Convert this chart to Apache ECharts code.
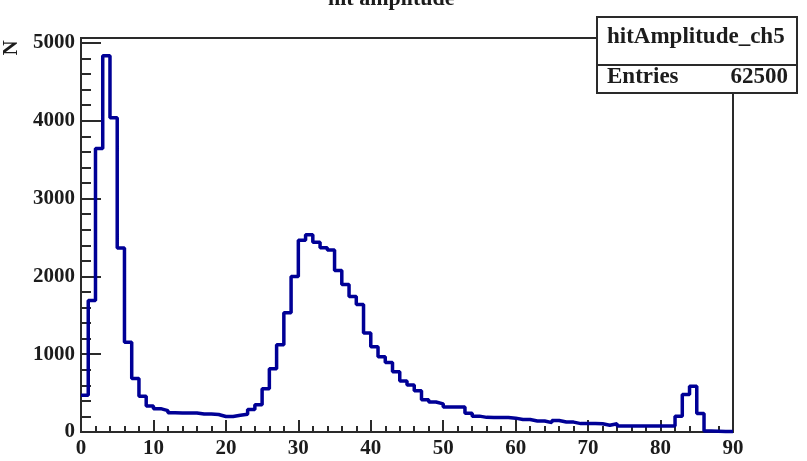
<!DOCTYPE html>
<html>
<head>
<meta charset="utf-8">
<title>hit amplitude</title>
<script src="https://cdn.jsdelivr.net/npm/echarts@6/dist/echarts.min.js"></script>
<style>
  html, body { margin: 0; padding: 0; background: #fff; }
  #chart { width: 807px; height: 461px; }
</style>
</head>
<body>
<div id="chart"></div>
<script>
// Histogram of hit amplitudes, channel 5: 90 bins of width 1 from 0 to 90
const histName = 'hitAmplitude_ch5';
const histTitle = 'hit amplitude';
const entries = '62500';
const binLow = 0;
const binWidth = 1;
const xRange = [0, 90];
const yRange = [0, 5000];
const counts = [
  473, 1690, 3645, 4835, 4040, 2365, 1155, 688, 460, 335,
  300, 275, 248, 245, 245, 245, 232, 230, 225, 200,
  200, 215, 228, 290, 350, 555, 812, 1122, 1532, 2000,
  2465, 2536, 2440, 2368, 2338, 2075, 1895, 1741, 1640, 1272,
  1095, 967, 894, 775, 657, 604, 530, 415, 385, 362,
  322, 322, 322, 240, 204, 188, 186, 186, 186, 178,
  160, 160, 142, 142, 121, 148, 129, 127, 108, 108,
  108, 106, 86, 106, 78, 78, 77, 77, 77, 77,
  77, 77, 202, 482, 589, 237, 12, 10, 8, 6
];

// Step outline: each bin's lower edge carries its count, the last edge closes the final bin
const outline = counts.map((c, i) => [binLow + i * binWidth, c]);
outline.push([binLow + counts.length * binWidth, counts[counts.length - 1]]);

const serif = 'Liberation Serif';
const ink = '#1c1c1c';
const axisColor = '#2a2a2a';
const plainNumber = v => String(v);

const chart = echarts.init(document.getElementById('chart'), null, { renderer: 'canvas' });

chart.setOption({
  animation: false,
  backgroundColor: '#ffffff',
  title: {
    text: histTitle,
    left: 328,
    top: -12,
    padding: 0,
    textStyle: { fontFamily: serif, fontWeight: 'bold', fontSize: 22, color: ink }
  },
  grid: { left: 81, right: 74, top: 43, bottom: 29, containLabel: false },
  xAxis: {
    type: 'value',
    min: xRange[0],
    max: xRange[1],
    interval: 10,
    axisLine: { show: true, lineStyle: { color: axisColor, width: 2 } },
    axisTick: { show: true, inside: true, length: 12, lineStyle: { color: axisColor, width: 2 } },
    minorTick: { show: true, splitNumber: 5, length: 6, lineStyle: { color: axisColor, width: 2 } },
    splitLine: { show: false },
    axisLabel: { margin: 6, fontFamily: serif, fontWeight: 'bold', fontSize: 21, color: ink, formatter: plainNumber }
  },
  yAxis: {
    type: 'value',
    min: yRange[0],
    max: yRange[1],
    interval: 1000,
    axisLine: { show: true, lineStyle: { color: axisColor, width: 2 } },
    axisTick: { show: true, inside: true, length: 20, lineStyle: { color: axisColor, width: 2 } },
    minorTick: { show: true, splitNumber: 5, length: 10, lineStyle: { color: axisColor, width: 2 } },
    splitLine: { show: false },
    axisLabel: { margin: 6, fontFamily: serif, fontWeight: 'bold', fontSize: 21, color: ink, formatter: plainNumber }
  },
  series: [{
    name: histName,
    type: 'line',
    step: 'end',
    data: outline,
    showSymbol: false,
    clip: false,
    lineStyle: { color: '#000096', width: 3.5 },
    z: 3
  }],
  graphic: [
    // pad frame
    {
      type: 'rect',
      z: 1,
      silent: true,
      shape: { x: 81, y: 38, width: 652, height: 394 },
      style: { fill: 'none', stroke: axisColor, lineWidth: 2 }
    },
    // y axis title
    {
      type: 'text',
      z: 5,
      x: 12,
      y: 48,
      rotation: Math.PI / 2,
      style: {
        text: 'N',
        fontFamily: serif, fontWeight: 'bold', fontSize: 21, fill: ink,
        align: 'center', verticalAlign: 'middle'
      }
    },
    // statistics box
    {
      type: 'group',
      z: 20,
      children: [
        {
          type: 'rect',
          z: 20,
          shape: { x: 597, y: 17, width: 200, height: 76 },
          style: { fill: '#ffffff', stroke: axisColor, lineWidth: 2 }
        },
        {
          type: 'line',
          z: 21,
          shape: { x1: 597, y1: 65, x2: 797, y2: 65 },
          style: { stroke: axisColor, lineWidth: 2 }
        },
        {
          type: 'text',
          z: 21,
          x: 607, y: 37,
          style: {
            text: histName,
            fontFamily: serif, fontWeight: 'bold', fontSize: 23, fill: ink,
            align: 'left', verticalAlign: 'middle'
          }
        },
        {
          type: 'text',
          z: 21,
          x: 607, y: 77,
          style: {
            text: 'Entries',
            fontFamily: serif, fontWeight: 'bold', fontSize: 23, fill: ink,
            align: 'left', verticalAlign: 'middle'
          }
        },
        {
          type: 'text',
          z: 21,
          x: 788, y: 77,
          style: {
            text: entries,
            fontFamily: serif, fontWeight: 'bold', fontSize: 23, fill: ink,
            align: 'right', verticalAlign: 'middle'
          }
        }
      ]
    }
  ]
});
</script>
</body>
</html>
